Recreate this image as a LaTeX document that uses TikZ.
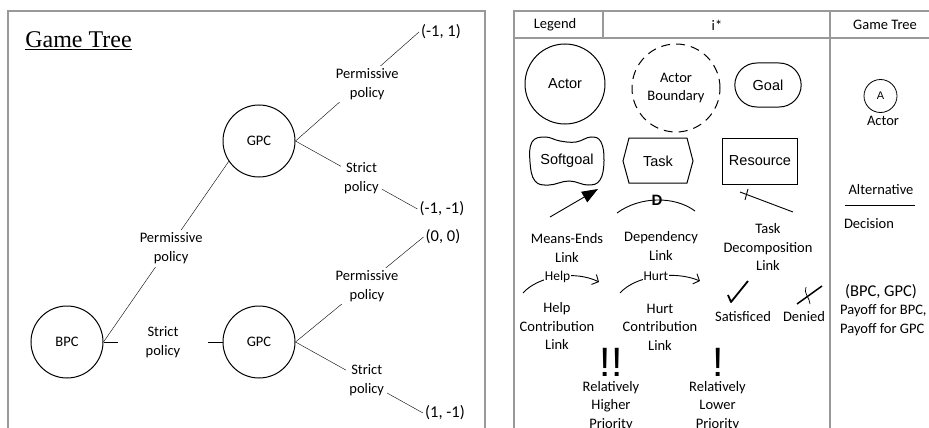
\documentclass[tikz,border=0pt]{standalone}
\usepackage{fontspec}
\setmainfont{Carlito}
\newfontfamily\arialfont{Liberation Sans}
\newfontfamily\timesfont{Liberation Serif}
\usepackage{tikz}
\usetikzlibrary{positioning,arrows.meta,shapes.misc}

\tikzset{
  txt/.style={font=\fontsize{14.5}{18.5}\selectfont, align=center},
  istar/.style={font=\arialfont\fontsize{14.5}{17}\selectfont, align=center},
  player/.style={circle, draw, line width=1pt, minimum size=72pt, inner sep=0pt, txt},
  lab/.style={txt, fill=white, inner sep=3pt},
  payoff/.style={font=\fontsize{16.5}{18.5}\selectfont, inner sep=2pt},
  contrib/.style={fill=white, inner sep=1pt, font=\fontsize{13.5}{14}\selectfont},
  bang/.style={anchor=base, inner sep=0pt, font=\arialfont\fontsize{41}{41}\selectfont},
  frame/.style={draw=black!40, line width=1.2pt},
  shapeline/.style={line width=1pt},
}

\begin{document}
\begin{tikzpicture}[x=1pt, y=-1pt]
\useasboundingbox (0,0) rectangle (929,428);

\draw[frame] (8,428) -- (8,11) -- (485,11) -- (485,428);
\draw[frame] (514,428) -- (514,11) -- (929,11);
\draw[frame] (514,38) -- (929,38);
\draw[frame] (603,11) -- (603,38);
\draw[frame] (830,11) -- (830,428);

\node[anchor=base, font=\timesfont\fontsize{24}{28}\selectfont] (title) at (78.5,47.5) {\underline{Game Tree}};

\node[player] (bpc) at (67,342) {BPC};
\node[player] (gpcA) at (259,141) {GPC};
\node[player] (gpcB) at (259,342) {GPC};
\node[payoff] (p1) at (441,32) {(-1, 1)};
\node[payoff] (p2) at (442,209) {(-1, -1)};
\node[payoff] (p3) at (443,237) {(0, 0)};
\node[payoff] (p4) at (445,413) {(1, -1)};

\draw (bpc.east) -- node[lab, xshift=5, yshift=3.5] {Permissive\\policy} (gpcA.214);
\draw (bpc.east) -- node[lab, minimum width=90pt] {Strict\\policy} (gpcB.west);
\draw (gpcA.east) -- node[lab, xshift=10, yshift=2.5] {Permissive\\policy} (p1.west);
\draw (gpcA.east) -- node[lab, xshift=5, yshift=-3] {Strict\\policy} (p2.west);
\draw (gpcB.east) -- node[lab, xshift=7.5, yshift=3.5] {Permissive\\policy} (p3.west);
\draw (gpcB.east) -- node[lab, xshift=7.5, yshift=-2.5] {Strict\\policy} (p4.west);

\node[txt] (hLegend) at (555,25) {Legend};
\node[txt] (hIstar) at (717,25) {i*};
\node[txt] (hTree) at (885,25) {Game Tree};

\node[circle, draw, shapeline, minimum size=80pt, inner sep=0pt, istar] (actor) at (565,84) {Actor};
\node[circle, draw, shapeline, dash pattern=on 9pt off 6pt, minimum size=88pt, inner sep=0pt, txt] (boundary) at (676,88) {Actor\\Boundary};
\node[rounded rectangle, draw, shapeline, minimum width=73pt, minimum height=44pt, istar] (goal) at (768,85) {Goal};

\draw[shapeline] plot[smooth cycle, tension=0.7] coordinates {(532,142) (545,137) (560,141) (576,142) (591,137) (601,142) (604,161) (600,180) (588,185) (569,181) (549,185) (535,181) (530,162)};
\node[istar] (softgoal) at (567,161) {Softgoal};
\draw[shapeline] (629,138) -- (687,138) -- (693,161) -- (687,183) -- (629,183) -- (623,161) -- cycle;
\node[istar] (task) at (658,161) {Task};
\node[rectangle, draw, shapeline, minimum width=75pt, minimum height=46pt, istar] (resource) at (760,161) {Resource};

\coordinate (meA) at (550,217);
\coordinate (meB) at (598,189);
\draw[line width=0.9pt, -{Triangle[length=16pt,width=12pt]}] (meA) -- (meB);
\coordinate (depA) at (617,213);
\coordinate (depB) at (695,211);
\draw[line width=0.9pt] (depA) .. controls (640,196) and (675,196) .. node[inner sep=0pt, font=\arialfont\bfseries\fontsize{15}{15}\selectfont] (depD) {D} (depB);
\coordinate (tdA) at (740,192);
\coordinate (tdB) at (793,212);
\draw[line width=0.9pt] (tdA) -- (tdB);
\draw[line width=0.9pt] (748,189) -- (745,200);

\node[txt] (meText) at (567,248) {Means-Ends\\Link};
\node[txt] (depText) at (661,246) {Dependency\\Link};
\node[txt] (tdText) at (768,247) {Task\\Decomposition\\Link};

\coordinate (helpA) at (523,293);
\coordinate (helpB) at (599,282);
\draw[line width=0.9pt, -{Straight Barb[length=5pt,width=11pt]}] (helpA) .. controls (538,276) and (575,270) .. node[contrib] {Help} (helpB);
\coordinate (hurtA) at (620,293);
\coordinate (hurtB) at (700,281);
\draw[line width=0.9pt, -{Straight Barb[length=5pt,width=11pt]}] (hurtA) .. controls (635,276) and (674,270) .. node[contrib] {Hurt} (hurtB);

\node[txt] (helpText) at (557,326) {Help\\Contribution\\Link};
\node[txt] (hurtText) at (660,327) {Hurt\\Contribution\\Link};

\draw[line width=1.8pt, line join=round] (728,295) -- (731,302) -- (748,281);
\node[txt] (satText) at (743,317) {Satisficed};
\draw[line width=1.5pt] (797,304) -- (822,286);
\draw[line width=0.7pt] (806,287) .. controls (803,293) and (810,298) .. (810,304);
\node[txt] (denText) at (804,317) {Denied};

\node[bang] (high) at (611,376) {!!};
\node[bang] (low) at (718,376) {!};
\node[txt] (highText) at (611,406) {Relatively\\Higher\\Priority};
\node[txt] (lowText) at (717.5,406) {Relatively\\Lower\\Priority};

\node[circle, draw, line width=0.8pt, minimum size=33pt, inner sep=0pt, font=\arialfont\fontsize{11}{11}\selectfont] (gA) at (880.5,96) {A};
\node[txt] (gActor) at (883,121) {Actor};
\node[txt] (alt) at (881,190) {Alternative};
\coordinate (decL) at (845,205);
\coordinate (decR) at (915,205);
\draw[line width=0.8pt] (decL) -- (decR);
\node[txt] (dec) at (869,224) {Decision};
\node[payoff] (pair) at (881,292) {(BPC, GPC)};
\node[txt, align=left, anchor=west, inner sep=1pt] (pay) at (839,320) {Payoff for BPC,\\Payoff for GPC};
\end{tikzpicture}
\end{document}
